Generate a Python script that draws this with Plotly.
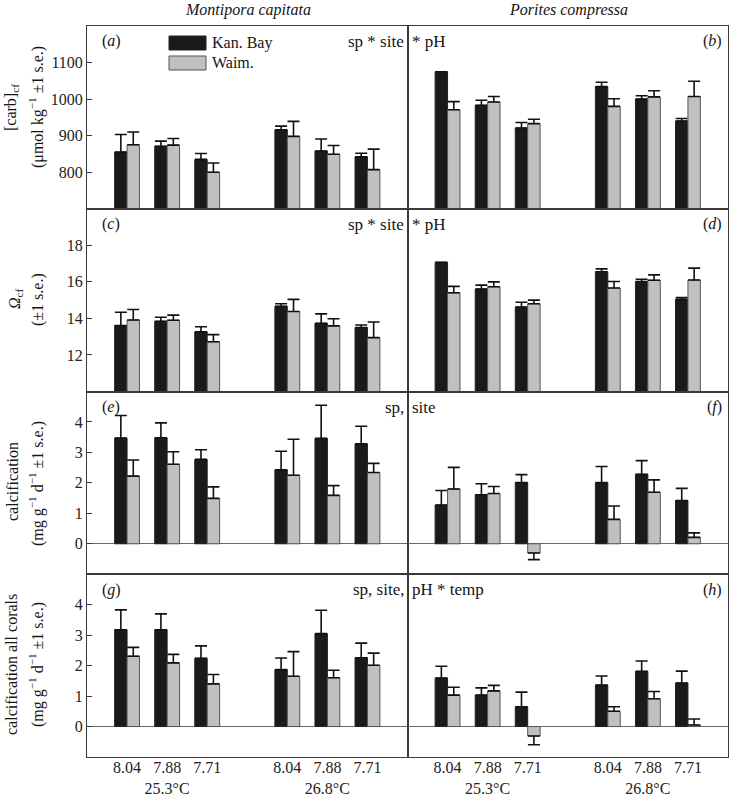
import plotly.graph_objects as go
from plotly.subplots import make_subplots

# ---------------- data ----------------
x_pos = [0, 1, 2, 4, 5, 6]
ph_labels = ["8.04", "7.88", "7.71", "8.04", "7.88", "7.71"]
temp_labels = ["25.3°C", "26.8°C"]
series_names = ["Kan. Bay", "Waim."]

# (a) [carb]cf Montipora capitata
carb_mc_kan = [855, 871, 835, 916, 858, 842]
carb_mc_kan_se = [48, 14, 16, 10, 33, 10]
carb_mc_wai = [875, 874, 800, 898, 849, 807]
carb_mc_wai_se = [35, 18, 25, 41, 24, 56]
# (b) [carb]cf Porites compressa
carb_pc_kan = [1075, 983, 921, 1034, 1000, 940]
carb_pc_kan_se = [0, 14, 15, 12, 9, 7]
carb_pc_wai = [971, 992, 933, 980, 1006, 1007]
carb_pc_wai_se = [22, 15, 12, 21, 17, 42]
# (c) Omega cf Montipora
om_mc_kan = [13.61, 13.84, 13.27, 14.66, 13.73, 13.50]
om_mc_kan_se = [0.73, 0.22, 0.27, 0.14, 0.52, 0.14]
om_mc_wai = [13.91, 13.90, 12.72, 14.38, 13.59, 12.95]
om_mc_wai_se = [0.58, 0.28, 0.39, 0.66, 0.39, 0.85]
# (d) Omega cf Porites
om_pc_kan = [17.07, 15.61, 14.62, 16.55, 16.02, 15.04]
om_pc_kan_se = [0, 0.21, 0.26, 0.16, 0.12, 0.10]
om_pc_wai = [15.40, 15.73, 14.80, 15.66, 16.09, 16.10]
om_pc_wai_se = [0.35, 0.27, 0.20, 0.36, 0.29, 0.65]
# (e) calcification Montipora
calc_mc_kan = [3.47, 3.48, 2.77, 2.43, 3.46, 3.28]
calc_mc_kan_se = [0.74, 0.49, 0.32, 0.61, 1.09, 0.58]
calc_mc_wai = [2.22, 2.61, 1.49, 2.25, 1.59, 2.34]
calc_mc_wai_se = [0.53, 0.41, 0.38, 1.18, 0.32, 0.30]
# (f) calcification Porites
calc_pc_kan = [1.27, 1.61, 2.01, 2.01, 2.28, 1.42]
calc_pc_kan_se = [0.48, 0.36, 0.26, 0.53, 0.45, 0.40]
calc_pc_wai = [1.80, 1.65, -0.30, 0.80, 1.69, 0.21]
calc_pc_wai_se = [0.71, 0.23, 0.22, 0.44, 0.41, 0.15]
# (g) calcification all corals Montipora
all_mc_kan = [3.18, 3.18, 2.24, 1.87, 3.05, 2.26]
all_mc_kan_se = [0.65, 0.52, 0.41, 0.38, 0.77, 0.48]
all_mc_wai = [2.31, 2.09, 1.40, 1.65, 1.60, 2.01]
all_mc_wai_se = [0.29, 0.28, 0.31, 0.81, 0.25, 0.40]
# (h) calcification all corals Porites
all_pc_kan = [1.59, 1.03, 0.65, 1.36, 1.81, 1.43]
all_pc_kan_se = [0.39, 0.24, 0.48, 0.30, 0.34, 0.39]
all_pc_wai = [1.03, 1.17, -0.31, 0.50, 0.91, 0.05]
all_pc_wai_se = [0.26, 0.18, 0.29, 0.15, 0.24, 0.20]

panels = [
    (1, 1, carb_mc_kan, carb_mc_kan_se, carb_mc_wai, carb_mc_wai_se),
    (1, 2, carb_pc_kan, carb_pc_kan_se, carb_pc_wai, carb_pc_wai_se),
    (2, 1, om_mc_kan, om_mc_kan_se, om_mc_wai, om_mc_wai_se),
    (2, 2, om_pc_kan, om_pc_kan_se, om_pc_wai, om_pc_wai_se),
    (3, 1, calc_mc_kan, calc_mc_kan_se, calc_mc_wai, calc_mc_wai_se),
    (3, 2, calc_pc_kan, calc_pc_kan_se, calc_pc_wai, calc_pc_wai_se),
    (4, 1, all_mc_kan, all_mc_kan_se, all_mc_wai, all_mc_wai_se),
    (4, 2, all_pc_kan, all_pc_kan_se, all_pc_wai, all_pc_wai_se),
]

row_ranges = {1: [700, 1200], 2: [10, 20], 3: [-1, 5], 4: [-1, 5]}
row_ticks = {1: [800, 900, 1000, 1100], 2: [12, 14, 16, 18],
             3: [0, 1, 2, 3, 4], 4: [0, 1, 2, 3, 4]}

FONT = "Liberation Serif, Times New Roman, serif"
BLACK = "#1a1a1a"
GREY = "#c0c0c0"
LINE = "#3a3a3a"

fig = make_subplots(rows=4, cols=2, horizontal_spacing=0, vertical_spacing=0)

def up_down(vals, se):
    up = [s if v >= 0 else 0 for v, s in zip(vals, se)]
    dn = [0 if v >= 0 else s for v, s in zip(vals, se)]
    return up, dn

for (r, c, kv, ks, wv, ws) in panels:
    for vals, se, fill, lc, name in [(kv, ks, BLACK, "#222222", series_names[0]),
                                     (wv, ws, GREY, "#555555", series_names[1])]:
        up, dn = up_down(vals, se)
        fig.add_trace(go.Bar(
            x=x_pos, y=vals, name=name, showlegend=False, hoverinfo="skip",
            marker=dict(color=fill, line=dict(color=lc, width=1)),
            error_y=dict(type="data", symmetric=False, array=up, arrayminus=dn,
                         color="#111111", thickness=1.6, width=6),
        ), row=r, col=c)

for r in range(1, 5):
    for c in (1, 2):
        fig.update_xaxes(
            range=[-1, 7], tickvals=x_pos,
            ticktext=["8.04", "7.88<br>" + temp_labels[0], "7.71",
                      "8.04", "7.88<br>" + temp_labels[1], "7.71"],
            showticklabels=(r == 4), ticks="", showgrid=False, zeroline=False,
            showline=True, mirror=True, linecolor=LINE, linewidth=1,
            ticklabelstandoff=-4, automargin=False,
            tickfont=dict(family=FONT, size=16, color="#222"),
            row=r, col=c)
        fig.update_yaxes(
            range=row_ranges[r], tickvals=row_ticks[r],
            showticklabels=(c == 1), ticks=("inside" if c == 1 else ""),
            ticklen=5, tickcolor=LINE, showgrid=False, automargin=False,
            zeroline=(r >= 3), zerolinecolor="#6a6a6a", zerolinewidth=1,
            showline=True, mirror=True, linecolor=LINE, linewidth=1,
            tickfont=dict(family=FONT, size=16, color="#222"),
            row=r, col=c)

# ---------------- annotations ----------------
L, R, T, B = 87, 728, 26, 757
def px(p):
    return (p - L) / (R - L)
def py(p):
    return (B - p) / (B - T)

ann = []
def txt(x, y, s, xa="center", ya="middle", angle=0, size=16):
    ann.append(dict(x=px(x), y=py(y), xref="paper", yref="paper", text=s,
                    showarrow=False, xanchor=xa, yanchor=ya, textangle=angle,
                    font=dict(family=FONT, size=size, color="#151515")))

# column titles
txt(247.5, 10, "<i>Montipora capitata</i>")
txt(568, 10, "<i>Porites compressa</i>")

row_tops = [26, 208.75, 391.5, 574.25]
letters = [("a", "b"), ("c", "d"), ("e", "f"), ("g", "h")]
stats = [("sp * site", "* pH"), ("sp * site", "* pH"),
         ("sp,", "site"), ("sp, site,", "pH * temp")]
for i, top in enumerate(row_tops):
    yy = top + 15.5
    txt(100, yy, "(<i>%s</i>)" % letters[i][0], xa="left")
    txt(724, yy, "(<i>%s</i>)" % letters[i][1], xa="right")
    txt(406, yy, stats[i][0], xa="right", size=17)
    txt(410, yy, stats[i][1], xa="left", size=17)

# y-axis titles
txt(12, 108, "[carb]<sub>cf</sub>", angle=-90)
txt(36, 107, "(μmol kg<sup>−1</sup> ±1 s.e.)", angle=-90)
txt(15, 299, "<i>Ω</i><sub>cf</sub>", angle=-90)
txt(38, 300, "(±1 s.e.)", angle=-90)
txt(12, 482, "calcification", angle=-90)
txt(36, 484, "(mg g<sup>−1</sup> d<sup>−1</sup> ±1 s.e.)", angle=-90)
txt(11, 665, "calcification all corals", angle=-90)
txt(36, 665, "(mg g<sup>−1</sup> d<sup>−1</sup> ±1 s.e.)", angle=-90)

# legend (drawn manually inside panel a)
shapes = [
    dict(type="rect", xref="paper", yref="paper", x0=px(169), x1=px(206),
         y0=py(50), y1=py(36), fillcolor=BLACK, line=dict(color="#222", width=1)),
    dict(type="rect", xref="paper", yref="paper", x0=px(169), x1=px(206),
         y0=py(70), y1=py(56), fillcolor=GREY, line=dict(color="#555", width=1)),
]
txt(210, 43, series_names[0], xa="left")
txt(210, 63, series_names[1], xa="left")

fig.update_layout(
    width=729, height=799,
    margin=dict(l=L, r=729 - R, t=T, b=799 - B, autoexpand=False),
    barmode="group", bargap=0.38, bargroupgap=0,
    plot_bgcolor="white", paper_bgcolor="white",
    font=dict(family=FONT, size=16, color="#222"),
    annotations=ann, shapes=shapes, showlegend=False,
)

fig.write_html("out.html", config={"displayModeBar": False},
               post_script="document.body.style.margin='0px';document.body.style.overflow='hidden';")
